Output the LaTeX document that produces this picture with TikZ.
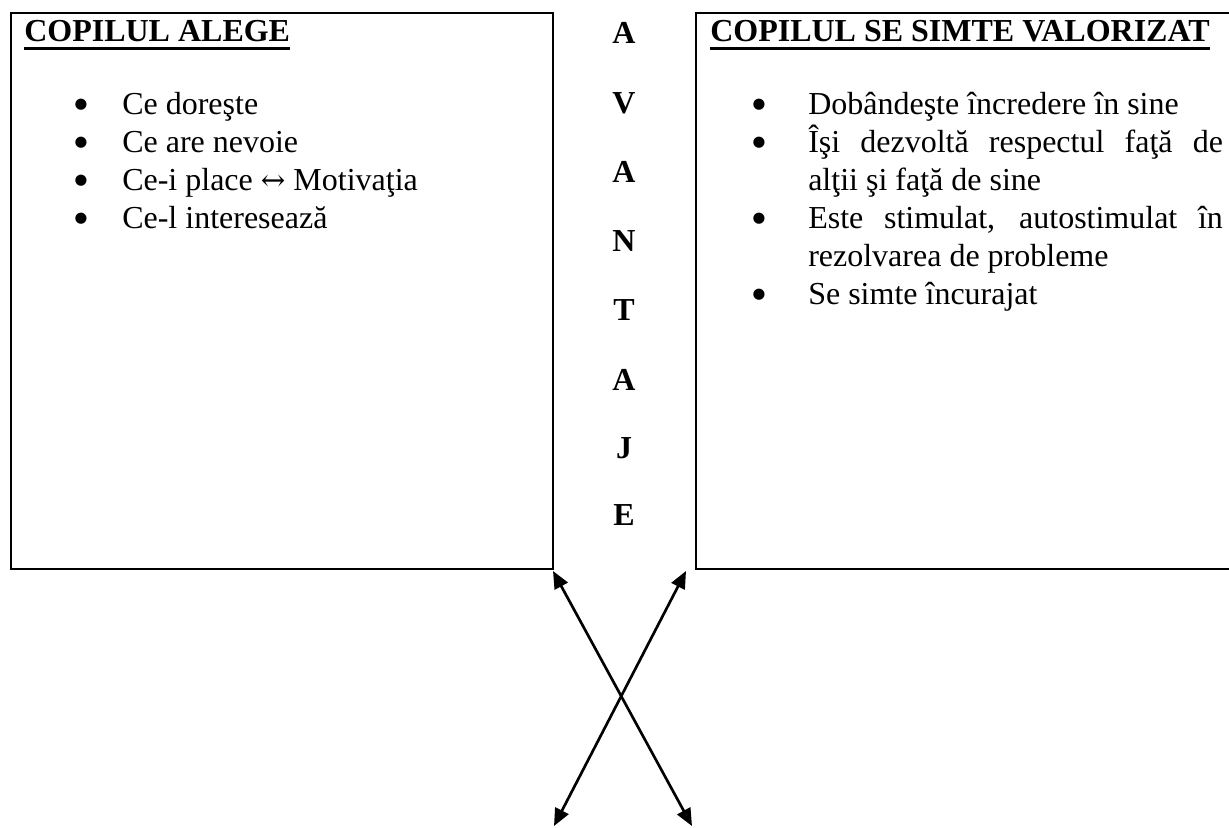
\documentclass[tikz,border=0pt]{standalone}
\usepackage{fontspec}
\setmainfont{Liberation Serif}
\newfontfamily\symfont{DejaVu Serif}
\newfontfamily\dotfont{DejaVu Sans}
\usetikzlibrary{arrows.meta}
\newcommand{\bigbul}{{\dotfont\fontsize{11}{11}\selectfont ●}}
\newcommand{\lrarr}{{\symfont\fontsize{22}{28}\selectfont ↔}}
\begin{document}
\begin{tikzpicture}[x=0.75pt,y=-0.75pt,
  txt/.style={anchor=base west, inner sep=0, font=\fontsize{24}{28}\selectfont},
  ttl/.style={anchor=base west, inner sep=0, font=\fontsize{24}{28}\selectfont\bfseries},
  bul/.style={anchor=center, inner sep=0},
  letter/.style={anchor=base, inner sep=0, font=\fontsize{24}{28}\selectfont\bfseries},
  panel/.style={draw, line width=1.8pt, anchor=north west, inner sep=0, minimum height=417pt},
  uline/.style={line width=1.8pt},
  conn/.style={line width=2pt, {Triangle[length=13pt,width=11pt]}-{Triangle[length=13pt,width=11pt]}}]
\clip (0,0) rectangle (1229,828);
% panels
\node[panel, minimum width=406.5pt] (left) at (10,12) {};
\node[panel, minimum width=412pt] (right) at (695,12) {};
% left panel
\node[ttl] (t1) at (24,41) {COPILUL ALEGE};
\draw[uline] ([yshift=-5.5pt]t1.base west) -- ([yshift=-5.5pt]t1.base east);
\node[bul] (lb1) at (81,105) {\bigbul};
\node[txt] (l1) at (122,114) {Ce doreşte};
\node[bul] (lb2) at (81,143) {\bigbul};
\node[txt] (l2) at (122,152) {Ce are nevoie};
\node[bul] (lb3) at (81,181) {\bigbul};
\node[txt] (l3) at (122,190) {Ce-i place \lrarr{} Motivaţia};
\node[bul] (lb4) at (81,219) {\bigbul};
\node[txt] (l4) at (122,228) {Ce-l interesează};
% vertical word
\node[letter] (v1) at (624,43) {A};
\node[letter] (v2) at (624,113) {V};
\node[letter] (v3) at (624,182) {A};
\node[letter] (v4) at (624,251) {N};
\node[letter] (v5) at (624,320) {T};
\node[letter] (v6) at (624,390) {A};
\node[letter] (v7) at (624,458) {J};
\node[letter] (v8) at (624,525) {E};
% right panel
\node[ttl] (t2) at (710,41) {COPILUL SE SIMTE VALORIZAT};
\draw[uline] ([yshift=-5.5pt]t2.base west) -- ([yshift=-5.5pt]t2.base east);
\node[bul] (rb1) at (759,105) {\bigbul};
\node[txt] (r1) at (808,114) {Dobândeşte încredere în sine};
\node[bul] (rb2) at (759,143) {\bigbul};
\node[txt] (r2) at (808,152) {\makebox[311pt][s]{Îşi dezvoltă respectul faţă de}};
\node[txt] (r2b) at (808,190) {alţii şi faţă de sine};
\node[bul] (rb3) at (759,219) {\bigbul};
\node[txt] (r3) at (808,228) {\makebox[311pt][s]{Este stimulat, autostimulat în}};
\node[txt] (r3b) at (808,266) {rezolvarea de probleme};
\node[bul] (rb4) at (759,295) {\bigbul};
\node[txt] (r4) at (808,304) {Se simte încurajat};
% crossing arrows
\coordinate (a1) at (553,571);
\coordinate (a2) at (692,826);
\coordinate (b1) at (686,571);
\coordinate (b2) at (554,826);
\draw[conn] (a1) -- (a2);
\draw[conn] (b1) -- (b2);
\end{tikzpicture}
\end{document}
